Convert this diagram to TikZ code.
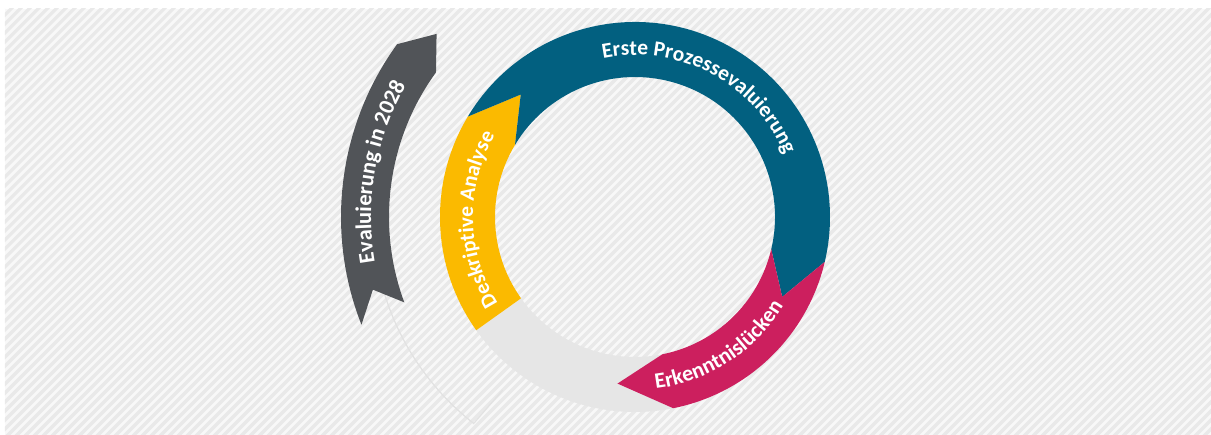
\documentclass[tikz,border=0pt]{standalone}
\usepackage{fontspec}
\setmainfont{Carlito}
\usetikzlibrary{decorations.text}

\definecolor{ringblue}{RGB}{2,96,128}
\definecolor{ringyellow}{RGB}{251,186,0}
\definecolor{ringpink}{RGB}{204,31,94}
\definecolor{ringgray}{RGB}{230,230,230}
\definecolor{arrowgray}{RGB}{81,84,88}
\definecolor{stripe}{RGB}{233,233,233}
\definecolor{panel}{RGB}{248,248,248}
\definecolor{ghost}{RGB}{226,226,226}

\begin{document}
\begin{tikzpicture}[x=1pt,y=1pt,
  ringtext/.style 2 args={decorate,decoration={text along path,text align=center,
      text={|\fontsize{#1}{#1}\selectfont\bfseries\color{white}|#2}}}]
\useasboundingbox (-635,-218) rectangle (576,217);
% striped panel
\fill[white] (-635,-218) rectangle (576,217);
\fill[panel] (-630,-218) rectangle (576,208);
\begin{scope}
\clip (-630,-218) rectangle (576,208);
\foreach \off in {-850,-841,...,800}
  \draw[stripe, line width=3.2pt] (\off-250,-250) -- (\off+250,250);
\end{scope}
% thin outline behind the dark arrow
\draw[ghost, line width=1.2pt] (197:262pt) arc[start angle=197, end angle=232, radius=262pt] -- (232.6:218pt);
% dark arrow on the left
\fill[arrowgray] (201.5:294pt) arc[start angle=201.5, end angle=144, radius=294pt] -- (137.3:270pt)
  -- (144:246pt) arc[start angle=144, end angle=200.3, radius=246pt] -- (195.5:272pt) -- cycle;
% ring
\fill[ringgray] (-78.7:195pt) arc[start angle=-78.7, end angle=-144.5, radius=195pt]
  -- (-144.5:140pt) arc[start angle=-144.5, end angle=-78.7, radius=140pt] -- (-96:167.5pt) -- cycle;
\fill[ringyellow] (215.5:195pt) arc[start angle=215.5, end angle=149, radius=195pt] -- (133:167.5pt)
  -- (149:140pt) arc[start angle=149, end angle=215.5, radius=140pt] -- cycle;
\fill[ringblue] (149:195pt) arc[start angle=149, end angle=-13.3, radius=195pt] -- (-28.5:167.5pt)
  -- (-13.3:140pt) arc[start angle=-13.3, end angle=149, radius=140pt] -- (133:167.5pt) -- cycle;
\fill[ringpink] (-13.3:195pt) arc[start angle=-13.3, end angle=-78.7, radius=195pt] -- (-96:167.5pt)
  -- (-78.7:140pt) arc[start angle=-78.7, end angle=-13.3, radius=140pt] -- (-28.5:167.5pt) -- cycle;
% labels
\path[ringtext={21.5}{Erste Prozessevaluierung}] (110:162pt) arc[start angle=110, end angle=14, radius=162pt];
\path[ringtext={21.5}{Deskriptive Analyse}] (216:162pt) arc[start angle=216, end angle=146, radius=162pt];
\path[ringtext={22}{Erkenntnislücken}] (-90:173pt) arc[start angle=-90, end angle=-24, radius=173pt];
\path[ringtext={22.5}{Evaluierung in 2028}] (200:264pt) arc[start angle=200, end angle=140, radius=264pt];
\end{tikzpicture}
\end{document}
